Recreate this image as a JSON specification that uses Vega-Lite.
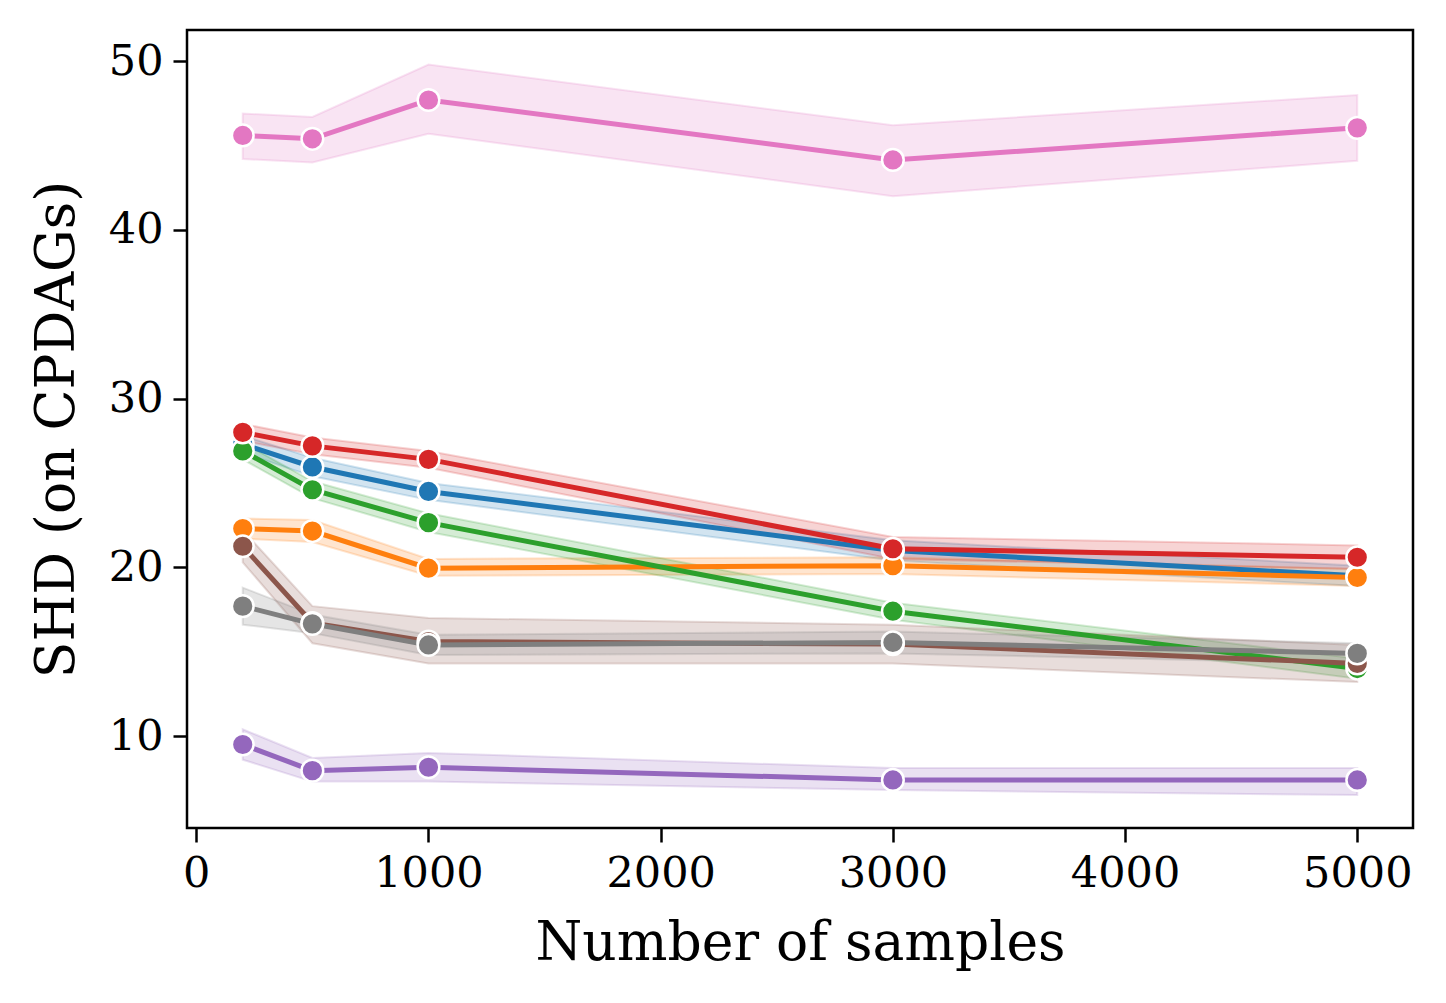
{
  "$schema": "https://vega.github.io/schema/vega-lite/v6.json",
  "autosize": "none",
  "width": 1226,
  "height": 798,
  "padding": {"left": 187, "top": 30, "right": 33, "bottom": 175},
  "background": "white",
  "config": {
    "font": "DejaVu Serif",
    "view": {"stroke": "black", "strokeWidth": 2.5},
    "axis": {
      "grid": false,
      "domain": false,
      "tickColor": "black",
      "tickWidth": 2.5,
      "tickSize": 14,
      "labelFont": "DejaVu Serif",
      "labelFontSize": 43,
      "labelColor": "black",
      "labelPadding": 10,
      "titleFont": "DejaVu Serif",
      "titleFontSize": 53.5,
      "titleFontWeight": "normal",
      "titleColor": "black"
    }
  },
  "data": {
    "values": [
      {"method": "m1", "n": 200, "shd": 27.3, "lo": 26.8, "hi": 27.8},
      {"method": "m1", "n": 500, "shd": 25.95, "lo": 25.4, "hi": 26.5},
      {"method": "m1", "n": 1000, "shd": 24.5, "lo": 24.0, "hi": 25.0},
      {"method": "m1", "n": 3000, "shd": 21.0, "lo": 20.4, "hi": 21.6},
      {"method": "m1", "n": 5000, "shd": 19.5, "lo": 18.9, "hi": 20.1},
      {"method": "m2", "n": 200, "shd": 22.3, "lo": 21.7, "hi": 22.9},
      {"method": "m2", "n": 500, "shd": 22.15, "lo": 21.5, "hi": 22.8},
      {"method": "m2", "n": 1000, "shd": 19.95, "lo": 19.5, "hi": 20.5},
      {"method": "m2", "n": 3000, "shd": 20.1, "lo": 19.6, "hi": 20.6},
      {"method": "m2", "n": 5000, "shd": 19.4, "lo": 18.9, "hi": 19.9},
      {"method": "m3", "n": 200, "shd": 26.9, "lo": 26.4, "hi": 27.4},
      {"method": "m3", "n": 500, "shd": 24.6, "lo": 24.1, "hi": 25.1},
      {"method": "m3", "n": 1000, "shd": 22.65, "lo": 22.1, "hi": 23.2},
      {"method": "m3", "n": 3000, "shd": 17.4, "lo": 16.9, "hi": 17.9},
      {"method": "m3", "n": 5000, "shd": 14.0, "lo": 13.4, "hi": 14.6},
      {"method": "m4", "n": 200, "shd": 28.0, "lo": 27.5, "hi": 28.5},
      {"method": "m4", "n": 500, "shd": 27.2, "lo": 26.7, "hi": 27.7},
      {"method": "m4", "n": 1000, "shd": 26.4, "lo": 25.9, "hi": 26.9},
      {"method": "m4", "n": 3000, "shd": 21.1, "lo": 20.5, "hi": 21.8},
      {"method": "m4", "n": 5000, "shd": 20.6, "lo": 19.9, "hi": 21.3},
      {"method": "m5", "n": 200, "shd": 9.5, "lo": 8.6, "hi": 10.4},
      {"method": "m5", "n": 500, "shd": 7.95, "lo": 7.3, "hi": 8.7},
      {"method": "m5", "n": 1000, "shd": 8.15, "lo": 7.3, "hi": 9.0},
      {"method": "m5", "n": 3000, "shd": 7.4, "lo": 6.8, "hi": 8.1},
      {"method": "m5", "n": 5000, "shd": 7.4, "lo": 6.5, "hi": 8.1},
      {"method": "m6", "n": 200, "shd": 21.25, "lo": 20.3, "hi": 22.2},
      {"method": "m6", "n": 500, "shd": 16.7, "lo": 15.5, "hi": 17.7},
      {"method": "m6", "n": 1000, "shd": 15.6, "lo": 14.3, "hi": 17.0},
      {"method": "m6", "n": 3000, "shd": 15.45, "lo": 14.3, "hi": 16.6},
      {"method": "m6", "n": 5000, "shd": 14.3, "lo": 13.2, "hi": 15.4},
      {"method": "m7", "n": 200, "shd": 45.6, "lo": 44.2, "hi": 46.9},
      {"method": "m7", "n": 500, "shd": 45.4, "lo": 44.0, "hi": 46.7},
      {"method": "m7", "n": 1000, "shd": 47.7, "lo": 45.7, "hi": 49.8},
      {"method": "m7", "n": 3000, "shd": 44.15, "lo": 42.0, "hi": 46.2},
      {"method": "m7", "n": 5000, "shd": 46.05, "lo": 44.1, "hi": 48.0},
      {"method": "m8", "n": 200, "shd": 17.7, "lo": 16.6, "hi": 18.8},
      {"method": "m8", "n": 500, "shd": 16.65, "lo": 16.1, "hi": 17.2},
      {"method": "m8", "n": 1000, "shd": 15.4, "lo": 14.8, "hi": 16.0},
      {"method": "m8", "n": 3000, "shd": 15.55, "lo": 14.9, "hi": 16.2},
      {"method": "m8", "n": 5000, "shd": 14.9, "lo": 14.3, "hi": 15.5}
    ]
  },
  "encoding": {
    "x": {
      "field": "n", "type": "quantitative",
      "scale": {"domain": [-40, 5240], "nice": false, "zero": false},
      "axis": {"values": [0, 1000, 2000, 3000, 4000, 5000], "format": "d", "title": "Number of samples", "titlePadding": 22}
    },
    "color": {
      "field": "method", "type": "nominal", "legend": null,
      "scale": {
        "domain": ["m1", "m2", "m3", "m4", "m5", "m6", "m7", "m8"],
        "range": ["#1f77b4", "#ff7f0e", "#2ca02c", "#d62728", "#9467bd", "#8c564b", "#e377c2", "#7f7f7f"]
      }
    }
  },
  "layer": [
    {
      "mark": {"type": "area", "fillOpacity": 0.2, "strokeOpacity": 0.2, "strokeWidth": 2},
      "encoding": {
        "y": {"field": "lo", "type": "quantitative", "scale": {"domain": [4.55, 51.85], "nice": false, "zero": false}},
        "y2": {"field": "hi"},
        "stroke": {"field": "method", "type": "nominal", "legend": null, "scale": {"domain": ["m1", "m2", "m3", "m4", "m5", "m6", "m7", "m8"], "range": ["#1f77b4", "#ff7f0e", "#2ca02c", "#d62728", "#9467bd", "#8c564b", "#e377c2", "#7f7f7f"]}}
      }
    },
    {
      "mark": {"type": "line", "strokeWidth": 5},
      "encoding": {
        "y": {
          "field": "shd", "type": "quantitative",
          "scale": {"domain": [4.55, 51.85], "nice": false, "zero": false},
          "axis": {"values": [10, 20, 30, 40, 50], "title": "SHD (on CPDAGs)", "titlePadding": 24}
        }
      }
    },
    {
      "mark": {"type": "point", "filled": true, "opacity": 1, "size": 470, "stroke": "white", "strokeWidth": 2.5},
      "encoding": {
        "y": {"field": "shd", "type": "quantitative"}
      }
    }
  ]
}
